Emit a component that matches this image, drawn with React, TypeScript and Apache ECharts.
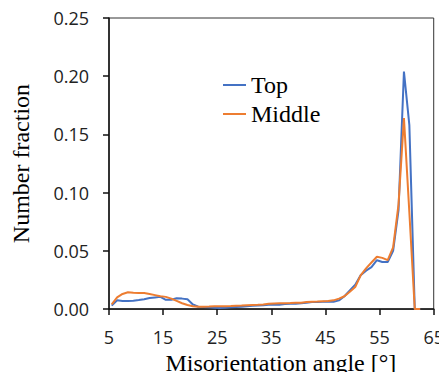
import React, { useEffect, useRef } from "react";
import * as echarts from "echarts";

const angles = [
  5.5, 6.5, 7.5, 8.5, 9.5, 10.5, 11.5, 12.5, 13.5, 14.5,
  15.5, 16.5, 17.5, 18.5, 19.5, 20.5, 21.5, 22.5, 23.5, 24.5,
  25.5, 26.5, 27.5, 28.5, 29.5, 30.5, 31.5, 32.5, 33.5, 34.5,
  35.5, 36.5, 37.5, 38.5, 39.5, 40.5, 41.5, 42.5, 43.5, 44.5,
  45.5, 46.5, 47.5, 48.5, 49.5, 50.5, 51.5, 52.5, 53.5, 54.5,
  55.5, 56.5, 57.5, 58.5, 59.5, 60.5, 61.5, 62.5,
];

const topValues = [
  0.003, 0.0075, 0.007, 0.007, 0.0072, 0.0078, 0.0085, 0.0095, 0.01, 0.0105,
  0.008, 0.008, 0.0093, 0.009, 0.0085, 0.004, 0.002, 0.0018, 0.0015, 0.0012,
  0.001, 0.0012, 0.0015, 0.0018, 0.002, 0.0025, 0.0028, 0.003, 0.0033, 0.0038,
  0.004, 0.0038, 0.0043, 0.0045, 0.0045, 0.005, 0.0055, 0.006, 0.0062, 0.0063,
  0.0065, 0.0063, 0.0075, 0.011, 0.016, 0.021, 0.029, 0.033, 0.036, 0.042,
  0.0405, 0.0405, 0.05, 0.085, 0.204, 0.158, 0, 0,
];

const middleValues = [
  0.004, 0.01, 0.013, 0.0145, 0.014, 0.0138, 0.0138, 0.013, 0.012, 0.011,
  0.0105, 0.009, 0.007, 0.005, 0.0035, 0.0025, 0.002, 0.002, 0.0022, 0.0025,
  0.0025, 0.0025, 0.0026, 0.0028, 0.003, 0.0033, 0.0035, 0.0037, 0.004, 0.0045,
  0.0048, 0.005, 0.005, 0.0052, 0.0055, 0.0055, 0.006, 0.0063, 0.0065, 0.0068,
  0.007, 0.0075, 0.009, 0.011, 0.015, 0.019, 0.029, 0.035, 0.04, 0.045,
  0.044, 0.042, 0.053, 0.09, 0.164, 0.083, 0, 0,
];

const seriesNames = ["Top", "Middle"];
const xTitle = "Misorientation angle [°]";
const yTitle = "Number fraction";

const BLUE = "#4472C4";
const ORANGE = "#ED7D31";
const SERIF = "'Liberation Serif', 'Times New Roman', serif";
const SANS = "'Open Sans', 'Noto Sans', sans-serif";

export default function App() {
  const ref = useRef<HTMLDivElement>(null);

  useEffect(() => {
    if (!ref.current) return;
    const chart = echarts.init(ref.current, null, { renderer: "svg" });
    const pairs = (vals: number[]) => angles.map((a, i) => [a, vals[i]]);
    const legendText = { fontFamily: SERIF, fontSize: 24, color: "#000" };
    chart.setOption({
      animation: false,
      backgroundColor: "#ffffff",
      grid: {
        left: 109,
        right: 13,
        top: 18,
        bottom: 67,
        show: true,
        borderColor: "#333",
        borderWidth: 1,
      },
      legend: [
        {
          data: [seriesNames[0]],
          orient: "vertical",
          left: 218,
          top: 68,
          itemWidth: 23,
          itemHeight: 2,
          icon: "rect",
          textStyle: legendText,
        },
        {
          data: [seriesNames[1]],
          orient: "vertical",
          left: 218,
          top: 97,
          itemWidth: 23,
          itemHeight: 2,
          icon: "rect",
          textStyle: legendText,
        },
      ],
      xAxis: {
        type: "value",
        min: 5,
        max: 65,
        interval: 10,
        name: xTitle,
        nameLocation: "middle",
        nameGap: 37,
        nameTextStyle: {
          fontFamily: SERIF,
          fontSize: 24,
          color: "#000",
          padding: [0, 0, 0, 19],
        },
        axisLine: { show: true, lineStyle: { color: "#111", width: 1.5 } },
        axisTick: { show: true, inside: false, length: 6, lineStyle: { color: "#111", width: 1.5 } },
        axisLabel: { fontFamily: SANS, fontSize: 18, color: "#222", margin: 19 },
        splitLine: { show: false },
      },
      yAxis: {
        type: "value",
        min: 0,
        max: 0.25,
        interval: 0.05,
        name: yTitle,
        nameLocation: "middle",
        nameGap: 76,
        nameTextStyle: { fontFamily: SERIF, fontSize: 24, color: "#000" },
        axisLine: { show: true, lineStyle: { color: "#111", width: 1.5 } },
        axisTick: { show: true, inside: false, length: 6, lineStyle: { color: "#111", width: 1.5 } },
        axisLabel: {
          fontFamily: SANS,
          fontSize: 18,
          color: "#222",
          margin: 20,
          formatter: (v: number) => v.toFixed(2),
        },
        splitLine: { show: false },
      },
      series: [
        {
          name: seriesNames[0],
          type: "line",
          data: pairs(topValues),
          showSymbol: false,
          lineStyle: { color: BLUE, width: 2 },
          itemStyle: { color: BLUE },
          z: 2,
        },
        {
          name: seriesNames[1],
          type: "line",
          data: pairs(middleValues),
          showSymbol: false,
          lineStyle: { color: ORANGE, width: 2 },
          itemStyle: { color: ORANGE },
          z: 3,
        },
      ],
    });
    return () => chart.dispose();
  }, []);

  return <div ref={ref} style={{ width: 447, height: 380, margin: -8 }} />;
}
